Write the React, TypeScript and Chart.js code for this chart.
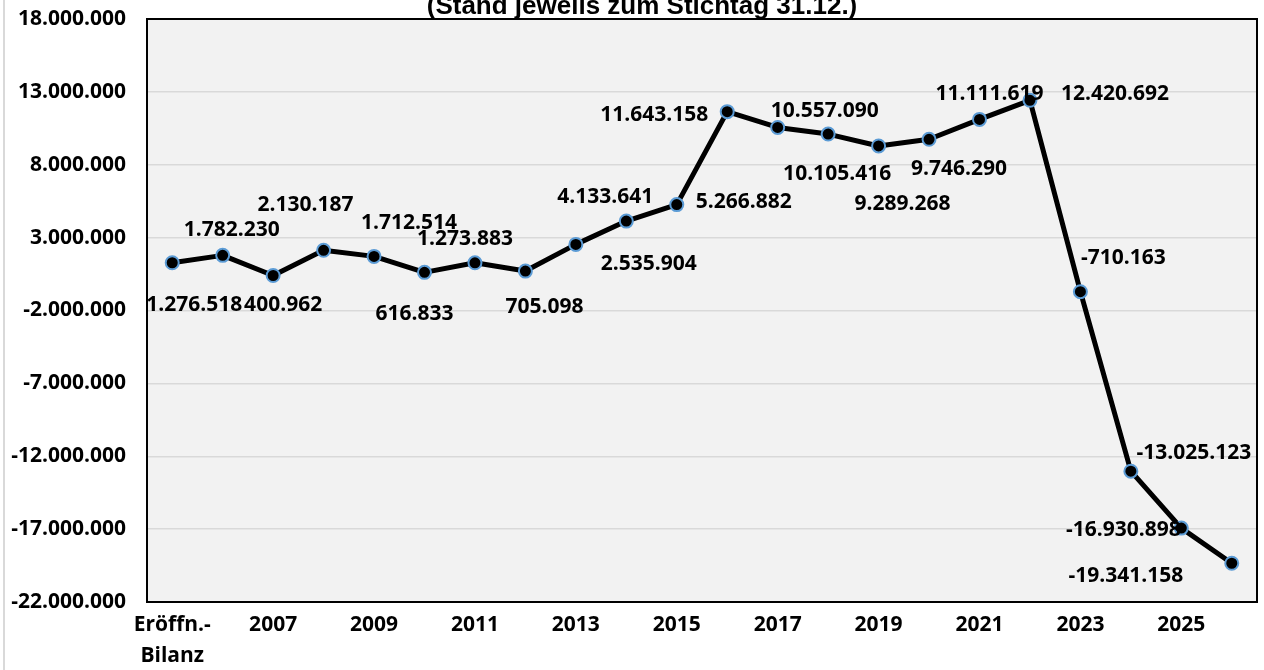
import React, { useEffect, useRef } from "react";
import { Chart, registerables } from "chart.js";

Chart.register(...registerables);

const categories: (string | string[])[] = [
  ["Eröffn.-", "Bilanz"], "2006", "2007", "2008", "2009", "2010", "2011", "2012", "2013", "2014",
  "2015", "2016", "2017", "2018", "2019", "2020", "2021", "2022", "2023", "2024", "2025", "2026",
];

const values: number[] = [
  1276518, 1782230, 400962, 2130187, 1712514, 616833, 1273883, 705098, 2535904, 4133641,
  5266882, 11643158, 10557090, 10105416, 9289268, 9746290, 11111619, 12420692, -710163,
  -13025123, -16930898, -19341158,
];

// label offsets relative to each point (dx, dy) in px
const labelDx: number[] = [22, 9, 10, -18, 35, -10, -10, 19, 73, -21, 67, -73, 47, 9, 24, 30, 10, 85, 43, 63, -58, -106];
const labelDy: number[] = [40, -27, 28, -47, -35, 40, -26, 34, 18, -26, -5, 1, -18, 38, 56, 28, -27, -8, -36, -20, 0, 11];

const yMin = -22000000;
const yMax = 18000000;
const yStep = 5000000;

const titleText = "(Stand jeweils zum Stichtag 31.12.)";

function fmt(v: number): string {
  const neg = v < 0;
  const s = Math.round(Math.abs(v)).toString();
  const parts: string[] = [];
  for (let i = s.length; i > 0; i -= 3) parts.unshift(s.slice(Math.max(0, i - 3), i));
  return (neg ? "-" : "") + parts.join(".");
}

const FONT = "'Open Sans', 'Noto Sans', sans-serif";

const decorPlugin = {
  id: "decor",
  beforeDraw(chart: any) {
    const { ctx, chartArea: a } = chart;
    ctx.save();
    ctx.fillStyle = "#ffffff";
    ctx.fillRect(0, 0, chart.width, chart.height);
    ctx.fillStyle = "#f2f2f2";
    ctx.fillRect(a.left, a.top, a.right - a.left, a.bottom - a.top);
    ctx.strokeStyle = "#d9d9d9";
    ctx.lineWidth = 2;
    ctx.beginPath();
    ctx.moveTo(4, 0);
    ctx.lineTo(4, chart.height);
    ctx.stroke();
    ctx.restore();
  },
  beforeDatasetsDraw(chart: any) {
    const { ctx, chartArea: a } = chart;
    ctx.save();
    ctx.strokeStyle = "#000000";
    ctx.lineWidth = 2;
    ctx.strokeRect(a.left, a.top, a.right - a.left, a.bottom - a.top);
    ctx.restore();
  },
  afterDatasetsDraw(chart: any) {
    const { ctx } = chart;
    const meta = chart.getDatasetMeta(0);
    ctx.save();
    ctx.font = `bold 21px ${FONT}`;
    ctx.fillStyle = "#000000";
    ctx.textAlign = "center";
    ctx.textBaseline = "middle";
    meta.data.forEach((pt: any, i: number) => {
      ctx.fillText(fmt(values[i]), pt.x + labelDx[i], pt.y + labelDy[i] + 2);
    });
    ctx.font = "bold 26px 'Liberation Sans', Arial, sans-serif";
    ctx.textBaseline = "alphabetic";
    ctx.fillText(titleText, 642, 14);
    ctx.restore();
  },
};

export default function App() {
  const ref = useRef<HTMLCanvasElement | null>(null);
  useEffect(() => {
    if (!ref.current) return;
    const chart = new Chart(ref.current, {
      type: "line",
      data: {
        labels: categories as any,
        datasets: [
          {
            data: values,
            borderColor: "#000000",
            borderWidth: 5,
            borderJoinStyle: "round",
            borderCapStyle: "round",
            pointBackgroundColor: "#000000",
            pointBorderColor: "#5b9bd5",
            pointBorderWidth: 2,
            pointRadius: 6.5,
            tension: 0,
            fill: false,
          },
        ],
      },
      options: {
        responsive: false,
        animation: false,
        events: [],
        layout: { padding: { top: 19, right: 7, left: 0, bottom: 0 }, autoPadding: false },
        plugins: { legend: { display: false }, tooltip: { enabled: false }, title: { display: false } },
        scales: {
          x: {
            type: "category",
            offset: true,
            grid: { display: false, drawTicks: false },
            border: { display: false },
            afterFit: (s: any) => { s.height = 68; s.paddingLeft = 0; s.paddingRight = 0; },
            ticks: {
              autoSkip: false,
              maxRotation: 0,
              minRotation: 0,
              padding: 8,
              color: "#000000",
              font: { family: FONT, size: 21, weight: "bold", lineHeight: 1.45 },
              callback: function (this: any, v: any, i: number) {
                return i % 2 === 0 ? (categories[i] as any) : "";
              },
            },
          },
          y: {
            min: yMin,
            max: yMax,
            afterFit: (s: any) => { s.width = 147; s.paddingTop = 0; s.paddingBottom = 0; },
            border: { display: false },
            grid: {
              drawTicks: false,
              color: (c: any) => (c.tick && c.tick.value === 0 ? "#ffffff" : "#d9d9d9"),
              lineWidth: (c: any) => (c.tick && c.tick.value === 0 ? 2 : 1.5),
            },
            ticks: {
              stepSize: yStep,
              padding: 21,
              color: "#000000",
              font: { family: FONT, size: 21, weight: "bold" },
              callback: (v: any) => fmt(Number(v)),
            },
          },
        },
      },
      plugins: [decorPlugin],
    });
    return () => chart.destroy();
  }, []);
  return (
    <div style={{ position: "absolute", left: 0, top: 0, width: 1264, height: 670, background: "#fff" }}>
      <canvas ref={ref} width={1264} height={670} style={{ display: "block" }} />
    </div>
  );
}
